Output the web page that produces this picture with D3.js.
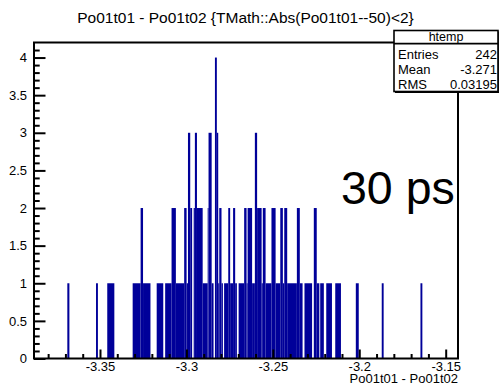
<!DOCTYPE html>
<html>
<head>
<meta charset="utf-8">
<script src="https://cdn.jsdelivr.net/npm/d3@7"></script>
<style>
  html, body { margin: 0; padding: 0; background: #fff; }
  svg { display: block; }
  text { font-family: "Liberation Sans", Arial, Helvetica, sans-serif; fill: #000; }
</style>
</head>
<body>
<svg id="chart" width="499" height="385"></svg>
<script>
// Histogram of Po01t01 - Po01t02: bin edges and entry counts
const binLow = [
  -3.3689, -3.3523, -3.3458, -3.3311, -3.3265, -3.3251, -3.3172, -3.3123, -3.3086, -3.3061,
  -3.3013, -3.2999, -3.2991, -3.2978, -3.2958, -3.2951, -3.2939, -3.2906, -3.2877, -3.2872,
  -3.2854, -3.2835, -3.2824, -3.2816, -3.2810, -3.2797, -3.2782, -3.2758, -3.2747, -3.2730,
  -3.2718, -3.2698, -3.2666, -3.2652, -3.2646, -3.2620, -3.2604, -3.2591, -3.2565, -3.2558,
  -3.2542, -3.2508, -3.2484, -3.2457, -3.2442, -3.2434, -3.2417, -3.2361, -3.2344, -3.2317,
  -3.2263, -3.2246, -3.2226, -3.2191, -3.2139, -3.2020, -3.1870, -3.1646
];
const binHigh = [
  -3.3677, -3.3512, -3.3417, -3.3265, -3.3251, -3.3208, -3.3134, -3.3086, -3.3061, -3.3013,
  -3.2999, -3.2991, -3.2978, -3.2967, -3.2951, -3.2939, -3.2906, -3.2877, -3.2872, -3.2854,
  -3.2843, -3.2824, -3.2816, -3.2810, -3.2797, -3.2789, -3.2758, -3.2747, -3.2730, -3.2718,
  -3.2708, -3.2666, -3.2652, -3.2646, -3.2620, -3.2604, -3.2591, -3.2565, -3.2558, -3.2542,
  -3.2508, -3.2484, -3.2457, -3.2442, -3.2434, -3.2417, -3.2361, -3.2344, -3.2328, -3.2273,
  -3.2246, -3.2231, -3.2205, -3.2158, -3.2106, -3.2003, -3.1859, -3.1635
];
const binCount = [
  1, 1, 1, 1, 2, 1, 1, 1, 2, 1,
  2, 1, 3, 2, 2, 3, 2, 1, 2, 3,
  1, 4, 3, 1, 2, 1, 1, 2, 1, 2,
  1, 1, 2, 1, 2, 1, 3, 2, 1, 2,
  1, 2, 1, 2, 1, 2, 1, 2, 1, 1,
  2, 1, 1, 1, 1, 1, 1, 1
];

// Axis ranges and labelled ticks
const xRange = [-3.38818, -3.14288];
const yRange = [0, 4.2];
const xMajorTicks = [-3.35, -3.3, -3.25, -3.2, -3.15];
const yMajorTicks = [0, 0.5, 1, 1.5, 2, 2.5, 3, 3.5, 4];

// Texts
const titleText = "Po01t01 - Po01t02 {TMath::Abs(Po01t01--50)<2}";
const xAxisTitle = "Po01t01 - Po01t02";
const statsName = "htemp";
const statsLabels = ["Entries", "Mean", "RMS"];
const statsValues = ["242", "-3.271", "0.03195"];
const noteText = "30 ps";

const histColor = "#000099";

const svg = d3.select("#chart");
const frame = { left: 34, right: 458, top: 42.5, bottom: 358.5 };

const x = d3.scaleLinear().domain(xRange).range([frame.left, frame.right]);
const y = d3.scaleLinear().domain(yRange).range([frame.bottom, frame.top]);

// histogram bins
const bins = binLow.map((lo, i) => ({ lo, hi: binHigh[i], n: binCount[i] }));
svg.append("g")
  .selectAll("rect")
  .data(bins)
  .join("rect")
  .attr("x", d => x(d.lo))
  .attr("width", d => x(d.hi) - x(d.lo))
  .attr("y", d => y(d.n))
  .attr("height", d => y(0) - y(d.n))
  .attr("fill", histColor);

// minor tick values
const xMinorTicks = d3.range(-338, -314).map(i => i / 100)
  .filter(v => !xMajorTicks.some(m => Math.abs(m - v) < 1e-9));
const yMinorTicks = d3.range(1, 42).map(i => i / 10)
  .filter(v => !yMajorTicks.some(m => Math.abs(m - v) < 1e-9));

function styleAxis(g) {
  g.select(".domain").remove();
  g.selectAll("line").attr("stroke", "#000").attr("stroke-width", 2);
  g.selectAll("text")
    .attr("font-family", '"Liberation Sans", Arial, sans-serif')
    .attr("font-size", 13)
    .attr("fill", "#000");
}

// x axis: ticks point up into the frame
svg.append("g")
  .attr("transform", `translate(0,${frame.bottom})`)
  .call(d3.axisBottom(x).tickValues(xMinorTicks).tickSize(-4.5).tickSizeOuter(0).tickFormat(""))
  .call(styleAxis);
svg.append("g")
  .attr("transform", `translate(0,${frame.bottom})`)
  .call(d3.axisBottom(x).tickValues(xMajorTicks).tickSize(-9).tickSizeOuter(0)
    .tickPadding(3).tickFormat(d => String(d)))
  .call(styleAxis);

// y axis: ticks point right into the frame
svg.append("g")
  .attr("transform", `translate(${frame.left},0)`)
  .call(d3.axisLeft(y).tickValues(yMinorTicks).tickSize(-5.7).tickSizeOuter(0).tickFormat(""))
  .call(styleAxis);
svg.append("g")
  .attr("transform", `translate(${frame.left},0)`)
  .call(d3.axisLeft(y).tickValues(yMajorTicks).tickSize(-11.5).tickSizeOuter(0)
    .tickPadding(7).tickFormat(d => String(d)))
  .call(styleAxis);

// frame
svg.append("rect")
  .attr("x", frame.left).attr("y", frame.top)
  .attr("width", frame.right - frame.left).attr("height", frame.bottom - frame.top)
  .attr("fill", "none").attr("stroke", "#000").attr("stroke-width", 2);

// title
svg.append("text")
  .attr("x", 245.5).attr("y", 23)
  .attr("text-anchor", "middle")
  .attr("font-size", 15.5)
  .text(titleText);

// x axis title, right aligned
svg.append("text")
  .attr("x", frame.right).attr("y", 382.5)
  .attr("text-anchor", "end")
  .attr("font-size", 13)
  .text(xAxisTitle);

// annotation
svg.append("text")
  .attr("x", 341).attr("y", 204)
  .attr("font-size", 46.5)
  .text(noteText);

// statistics box
const box = { x0: 394, x1: 498, y0: 30.5, y1: 91.5 };
svg.append("rect")
  .attr("x", box.x0).attr("y", box.y0)
  .attr("width", box.x1 - box.x0).attr("height", box.y1 - box.y0)
  .attr("fill", "#fff").attr("stroke", "#000").attr("stroke-width", 1.6);
svg.append("line")
  .attr("x1", box.x0 + 1).attr("x2", box.x1 + 1.5)
  .attr("y1", box.y1 + 0.8).attr("y2", box.y1 + 0.8)
  .attr("stroke", "#000").attr("stroke-width", 1.2);
svg.append("line")
  .attr("x1", box.x1 + 0.8).attr("x2", box.x1 + 0.8)
  .attr("y1", box.y0 + 1).attr("y2", box.y1 + 1.4)
  .attr("stroke", "#000").attr("stroke-width", 1.2);
svg.append("line")
  .attr("x1", box.x0).attr("x2", box.x1)
  .attr("y1", 43.6).attr("y2", 43.6)
  .attr("stroke", "#000").attr("stroke-width", 1.6);

svg.append("text")
  .attr("x", (box.x0 + box.x1) / 2).attr("y", 41.2)
  .attr("text-anchor", "middle")
  .attr("font-size", 12.5)
  .text(statsName);

const rowBaselines = [58.5, 74, 89];
statsLabels.forEach((lab, i) => {
  svg.append("text")
    .attr("x", box.x0 + 4).attr("y", rowBaselines[i])
    .attr("font-size", 13)
    .text(lab);
  svg.append("text")
    .attr("x", box.x1 - 1).attr("y", rowBaselines[i])
    .attr("text-anchor", "end")
    .attr("font-size", 13)
    .text(statsValues[i]);
});
</script>
</body>
</html>
